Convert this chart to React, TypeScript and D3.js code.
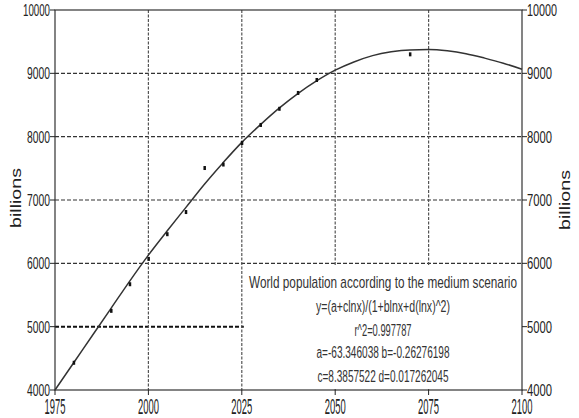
import React from 'react';
import * as d3 from 'd3';

// observed points (millions)
const pointYears = [1980, 1990, 1995, 2000, 2005, 2010, 2015, 2020, 2025, 2030, 2035, 2040, 2045, 2070];
const pointValues = [4430, 5250, 5670, 6070, 6460, 6810, 7505, 7560, 7900, 8185, 8440, 8690, 8895, 9300];

// fitted curve, every 5 years
const curveYears = [1975, 1980, 1985, 1990, 1995, 2000, 2005, 2010, 2015, 2020, 2025, 2030, 2035,
    2040, 2045, 2050, 2055, 2060, 2065, 2070, 2075, 2080, 2085, 2090, 2095, 2100];
const curveValues = [4000, 4430, 4860, 5290, 5720, 6130, 6510, 6880, 7250, 7590, 7910, 8190, 8450,
    8680, 8880, 9050, 9180, 9280, 9340, 9370, 9375, 9355, 9310, 9240, 9160, 9065];

const xTicks = [1975, 2000, 2025, 2050, 2075, 2100];
const yTicks = [4000, 5000, 6000, 7000, 8000, 9000, 10000];

const boxLines = [
    'World population according to the medium scenario',
    'y=(a+clnx)/(1+blnx+d(lnx)^2)',
    'r^2=0.997787',
    'a=-63.346038 b=-0.26276198',
    'c=8.3857522 d=0.017262045'
];
const boxWidths = [268, 134, 57, 133, 131];
const boxBaselines = [288, 312, 336, 358, 382];

const W = 579;
const H = 418;

export default function App() {
    const x = d3.scaleLinear().domain([1975, 2100]).range([55, 522]);
    const y = d3.scaleLinear().domain([4000, 10000]).range([390, 10]);

    const line = d3.line<number>()
        .x((d, i) => x(curveYears[i]))
        .y(d => y(d))
        .curve(d3.curveMonotoneX);

    const font = '"Liberation Sans", Arial, sans-serif';
    const ink = '#222';

    return (
        <svg width={W} height={H} style={{ position: 'absolute', left: 0, top: 0, background: '#fff' }}
            fontFamily={font}>
            <rect width={W} height={H} fill="#fff" />

            {/* horizontal grid */}
            {yTicks.filter(t => t > 4000 && t < 10000).map(t => (
                <line key={'h' + t} x1={x(1975)} x2={x(2100)} y1={y(t)} y2={y(t)}
                    stroke={t === 5000 ? '#111' : '#333'}
                    strokeWidth={t === 5000 ? 2 : 1.2}
                    strokeDasharray="4,2" />
            ))}
            {/* vertical grid */}
            {xTicks.filter(t => t > 1975 && t < 2100).map(t => (
                <line key={'v' + t} x1={x(t)} x2={x(t)} y1={y(10000)} y2={y(4000)}
                    stroke="#555" strokeWidth={1.2} strokeDasharray="3,1.5" />
            ))}

            {/* annotation box */}
            <rect x={x(2025) + 2} y={266} width={x(2100) - x(2025) - 3} height={123} fill="#fff" />
            {boxLines.map((s, i) => (
                <text key={s} x={383} y={boxBaselines[i]} textAnchor="middle"
                    fontSize={i === 0 ? 17 : 16} fill="#333"
                    textLength={boxWidths[i]} lengthAdjust="spacingAndGlyphs">{s}</text>
            ))}

            {/* fitted curve */}
            <path d={line(curveValues) || ''} fill="none" stroke="#333" strokeWidth={1.5} />

            {/* data points */}
            {pointValues.map((v, i) => (
                <rect key={'p' + i} x={x(pointYears[i]) - 1} y={y(v) - 2} width={2.5} height={4} fill="#111" />
            ))}

            {/* frame */}
            <rect x={x(1975)} y={y(10000)} width={x(2100) - x(1975)} height={y(4000) - y(10000)}
                fill="none" stroke="#333" strokeWidth={1.2} />

            {/* left + right axes */}
            {yTicks.map(t => (
                <g key={'yt' + t}>
                    <line x1={x(1975) - 5} x2={x(1975)} y1={y(t)} y2={y(t)} stroke={ink} />
                    <line x1={x(2100)} x2={x(2100) + 5} y1={y(t)} y2={y(t)} stroke={ink} />
                    <text x={x(1975) - 5} y={y(t) + 6} textAnchor="end" fontSize={17} fill={ink}
                        textLength={t === 10000 ? 27 : 23} lengthAdjust="spacingAndGlyphs">{t}</text>
                    <text x={x(2100) + 5} y={y(t) + 6} textAnchor="start" fontSize={17} fill={ink}
                        textLength={t === 10000 ? 30 : 25} lengthAdjust="spacingAndGlyphs">{t}</text>
                </g>
            ))}

            {/* bottom axis */}
            {xTicks.map(t => (
                <g key={'xt' + t}>
                    <line x1={x(t)} x2={x(t)} y1={y(4000)} y2={y(4000) + 5} stroke={ink} />
                    <text x={x(t)} y={414} textAnchor="middle" fontSize={22} fill={ink}
                        textLength={21} lengthAdjust="spacingAndGlyphs">{t}</text>
                </g>
            ))}

            {/* axis titles */}
            <text transform="translate(21,198) rotate(-90)" textAnchor="middle" fontSize={14} fill={ink}
                textLength={60} lengthAdjust="spacingAndGlyphs">billions</text>
            <text transform="translate(570,200) rotate(-90)" textAnchor="middle" fontSize={14} fill={ink}
                textLength={60} lengthAdjust="spacingAndGlyphs">billions</text>
        </svg>
    );
}
